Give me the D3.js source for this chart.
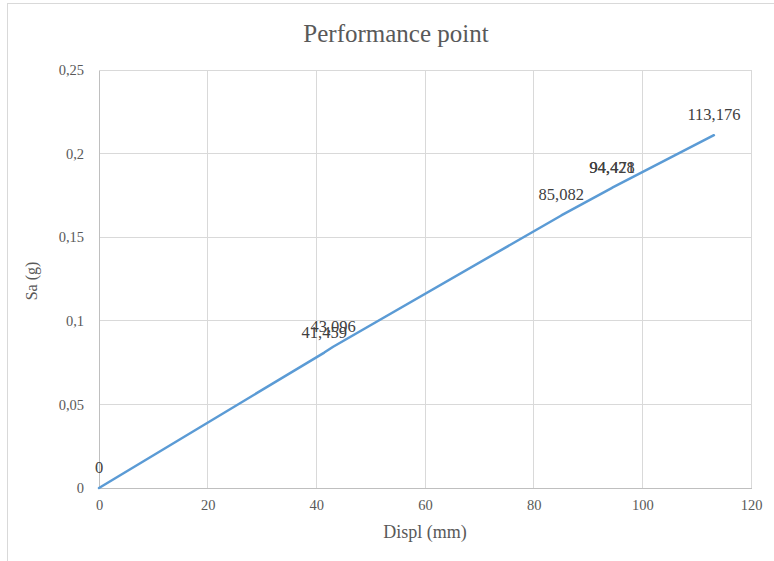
<!DOCTYPE html>
<html><head><meta charset="utf-8">
<script src="https://cdn.jsdelivr.net/npm/d3@7"></script>
<style>body{margin:0;background:#fff}svg{display:block}</style>
</head><body>
<script>
const displ = [0, 41.459, 43.096, 85.082, 94.428, 94.471, 113.176];
const sa = [0, 0.081, 0.0845, 0.163, 0.1795, 0.1797, 0.211];
const pointLabels = ["0", "41,459", "43,096", "85,082", "94,428", "94,471", "113,176"];
const xTicks = [0, 20, 40, 60, 80, 100, 120];
const yTicks = [0, 0.05, 0.1, 0.15, 0.2, 0.25];
const yTickLabels = ["0", "0,05", "0,1", "0,15", "0,2", "0,25"];

const W = 774, H = 561;
const m = {left: 99, right: 23, top: 70, bottom: 73};
const svg = d3.select("body").append("svg").attr("width", W).attr("height", H);
const font = "'Liberation Serif','Times New Roman',serif";

svg.append("rect").attr("x", 7.5).attr("y", 3.5).attr("width", W + 20).attr("height", H + 20)
  .attr("fill", "#fff").attr("stroke", "#d9d9d9");

const x = d3.scaleLinear().domain([0, 120]).range([m.left, W - m.right]);
const y = d3.scaleLinear().domain([0, 0.25]).range([H - m.bottom, m.top]);

// gridlines
svg.append("g").selectAll("line").data(xTicks.slice(1)).join("line")
  .attr("x1", d => x(d)).attr("x2", d => x(d)).attr("y1", y(0)).attr("y2", y(0.25))
  .attr("stroke", "#d9d9d9").attr("stroke-width", 1).attr("shape-rendering", "crispEdges");
svg.append("g").selectAll("line").data(yTicks.slice(1)).join("line")
  .attr("x1", x(0)).attr("x2", x(120)).attr("y1", d => y(d)).attr("y2", d => y(d))
  .attr("stroke", "#d9d9d9").attr("stroke-width", 1).attr("shape-rendering", "crispEdges");

// axes
const xAxis = svg.append("g").attr("transform", `translate(0,${y(0)})`)
  .call(d3.axisBottom(x).tickValues(xTicks).tickSize(0).tickPadding(12));
const yAxis = svg.append("g").attr("transform", `translate(${x(0)},0)`)
  .call(d3.axisLeft(y).tickValues(yTicks).tickSize(0).tickPadding(15)
    .tickFormat((d, i) => yTickLabels[i]));
[xAxis, yAxis].forEach(g => {
  g.select(".domain").attr("stroke", "#bfbfbf").attr("shape-rendering", "crispEdges");
  g.selectAll("text").attr("font-family", font).attr("font-size", 14.5).attr("fill", "#595959");
});

// line
const pts = displ.map((d, i) => [d, sa[i]]);
svg.append("path").datum(pts)
  .attr("d", d3.line().x(d => x(d[0])).y(d => y(d[1])))
  .attr("fill", "none").attr("stroke", "#5b9bd5").attr("stroke-width", 2.5)
  .attr("stroke-linejoin", "round").attr("stroke-linecap", "round");

// data labels
svg.append("g").selectAll("text").data(pts).join("text")
  .attr("x", d => x(d[0])).attr("y", d => y(d[1]) - 15)
  .attr("text-anchor", "middle").attr("font-family", font).attr("font-size", 16.5)
  .attr("fill", "#404040").text((d, i) => pointLabels[i]);

// titles
svg.append("text").attr("x", 396).attr("y", 42).attr("text-anchor", "middle")
  .attr("font-family", font).attr("font-size", 25).attr("fill", "#595959").text("Performance point");
svg.append("text").attr("x", 425).attr("y", 538).attr("text-anchor", "middle")
  .attr("font-family", font).attr("font-size", 18).attr("fill", "#595959").text("Displ (mm)");
svg.append("text").attr("transform", "translate(37,281) rotate(-90)").attr("text-anchor", "middle")
  .attr("font-family", font).attr("font-size", 16).attr("fill", "#595959").text("Sa (g)");
</script>
</body></html>
